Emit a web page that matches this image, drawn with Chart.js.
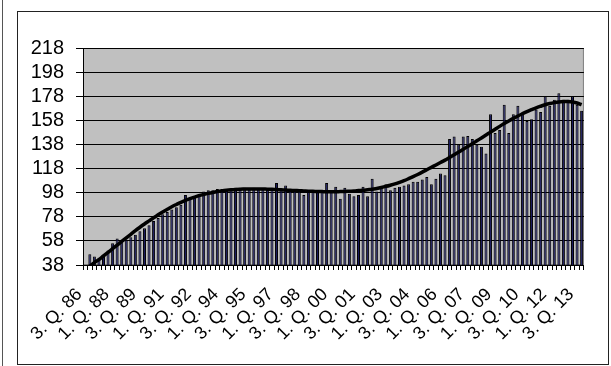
<!DOCTYPE html>
<html>
<head>
<meta charset="UTF-8">
<title>Quarterly index</title>
<script src="https://cdn.jsdelivr.net/npm/chart.js"></script>
<style>
  html, body { margin: 0; padding: 0; background: #fff; }
  .wrap { position: relative; width: 611px; height: 366px; overflow: hidden; }
  .edge { position: absolute; left: 2px; top: 0; width: 0; height: 366px; border-left: 1px solid #555; }
  .frame { position: absolute; left: 17px; top: 11px; width: 590px; height: 352px; border: 1px solid #222; }
  canvas { position: absolute; left: 0; top: 0; }
</style>
</head>
<body>
<div class="wrap">
  <div class="edge"></div>
  <div class="frame"></div>
  <canvas id="chart" width="611" height="366"></canvas>
</div>
<script>
// shown axis labels, one every 6 quarters starting with Q3 1986
const tickLabels = ['3. Q. 86', '1. Q. 88', '3. Q. 89', '1. Q. 91', '3. Q. 92', '1. Q. 94', '3. Q. 95',
  '1. Q. 97', '3. Q. 98', '1. Q. 00', '3. Q. 01', '1. Q. 03', '3. Q. 04', '1. Q. 06', '3. Q. 07',
  '1. Q. 09', '3. Q. 10', '1. Q. 12', '3. Q. 13'];
const labelEvery = 6;
const yTicks = [38, 58, 78, 98, 118, 138, 158, 178, 198, 218];

// quarterly values, Q3 1986 .. Q4 2013
const values = [
  38, 47, 45, 44, 46, 50, 56, 60, 58, 59,
  61, 63, 66, 68.5, 71, 74.5, 77, 80, 82, 84,
  86, 88, 96, 93, 95, 97, 99, 100, 100, 101,
  101, 101, 101, 102, 102, 102, 101, 102, 101, 101,
  101, 101, 106, 101, 104, 101, 100, 100, 96, 99,
  99, 100, 100, 106, 100, 103, 93, 102, 97, 95,
  96, 103, 95, 109.5, 99, 102, 105, 100, 102, 103,
  104, 105, 107, 107, 109, 111, 105, 109.5, 114, 112.5,
  142.5, 144.5, 138, 144.5, 145, 142.5, 138, 136, 130.5, 163,
  147.5, 150, 171, 147.5, 163, 170, 164.5, 157.5, 159, 167,
  165, 178, 170, 175, 180.5, 175, 175, 178, 171, 166
];

// polynomial trend drawn over the bars
const trend = [
  34, 37, 40, 42.5, 45.5, 48.5, 51.5, 54.5, 57.5, 60.5,
  63.5, 66.5, 69.3, 72, 74.6, 77.2, 79.6, 82, 84.2, 86.3,
  88.2, 90, 91.6, 93, 94.3, 95.5, 96.5, 97.4, 98.2, 98.9,
  99.5, 100, 100.4, 100.7, 100.9, 101, 101.1, 101.1, 101.1, 101,
  100.9, 100.8, 100.6, 100.4, 100.2, 100, 99.8, 99.6, 99.4, 99.2,
  99.1, 99, 98.9, 98.8, 98.8, 98.8, 98.9, 99, 99.2, 99.4,
  99.7, 100, 100.4, 100.8, 101.5, 102.3, 103.2, 104.2, 105.3, 106.6,
  108, 109.6, 111.3, 113.1, 115, 117, 119, 121, 123, 125,
  127.2, 129.4, 131.7, 134, 136.3, 138.6, 141, 143.4, 145.8, 148.2,
  150.6, 153, 155.3, 157.5, 159.6, 161.6, 163.5, 165.3, 166.9, 168.4,
  169.7, 170.9, 171.9, 172.7, 173.3, 173.6, 173.6, 173.2, 172.4, 171
];

const categories = values.map((v, i) => i % labelEvery === 0 ? tickLabels[i / labelEvery] : '');

const plotBackground = {
  id: 'plotBackground',
  beforeDraw(chart) {
    const { ctx, chartArea: a } = chart;
    ctx.save();
    ctx.fillStyle = '#c0c0c0';
    ctx.fillRect(a.left, a.top, a.right - a.left, a.bottom - a.top);
    ctx.strokeStyle = '#808080';
    ctx.lineWidth = 1;
    ctx.strokeRect(a.left + 0.5, a.top + 0.5, a.right - a.left - 1, a.bottom - a.top - 1);
    ctx.restore();
  }
};

const family = 'Liberation Sans, Arial, sans-serif';

new Chart(document.getElementById('chart'), {
  data: {
    labels: categories,
    datasets: [
      {
        type: 'line',
        data: trend,
        borderColor: '#000',
        borderWidth: 3.5,
        pointRadius: 0,
        tension: 0.4,
        order: 0
      },
      {
        type: 'bar',
        data: values,
        backgroundColor: '#16165c',
        borderColor: '#000',
        borderWidth: 1,
        barPercentage: 0.66,
        categoryPercentage: 1,
        order: 1
      }
    ]
  },
  options: {
    responsive: false,
    animation: false,
    events: [],
    layout: { padding: { left: 20, right: 22, top: 48, bottom: 0 } },
    plugins: { legend: { display: false }, tooltip: { enabled: false } },
    scales: {
      x: {
        grid: { drawOnChartArea: false, drawTicks: true, tickLength: 5, color: '#000' },
        border: { color: '#000', width: 1 },
        ticks: {
          autoSkip: false, minRotation: 45, maxRotation: 45, labelOffset: -6,
          color: '#000', font: { family: family, size: 18 }, padding: 14
        },
        afterFit(scale) { scale.height = 101; }
      },
      y: {
        min: 38, max: 218,
        grid: { color: '#000', lineWidth: 1, tickLength: 7 },
        border: { color: '#000', width: 1 },
        ticks: { color: '#000', font: { family: family, size: 20 }, padding: 12, autoSkip: false },
        afterBuildTicks(scale) { scale.ticks = yTicks.map(v => ({ value: v })); },
        afterFit(scale) { scale.width = 63; }
      }
    }
  },
  plugins: [plotBackground]
});
</script>
</body>
</html>
